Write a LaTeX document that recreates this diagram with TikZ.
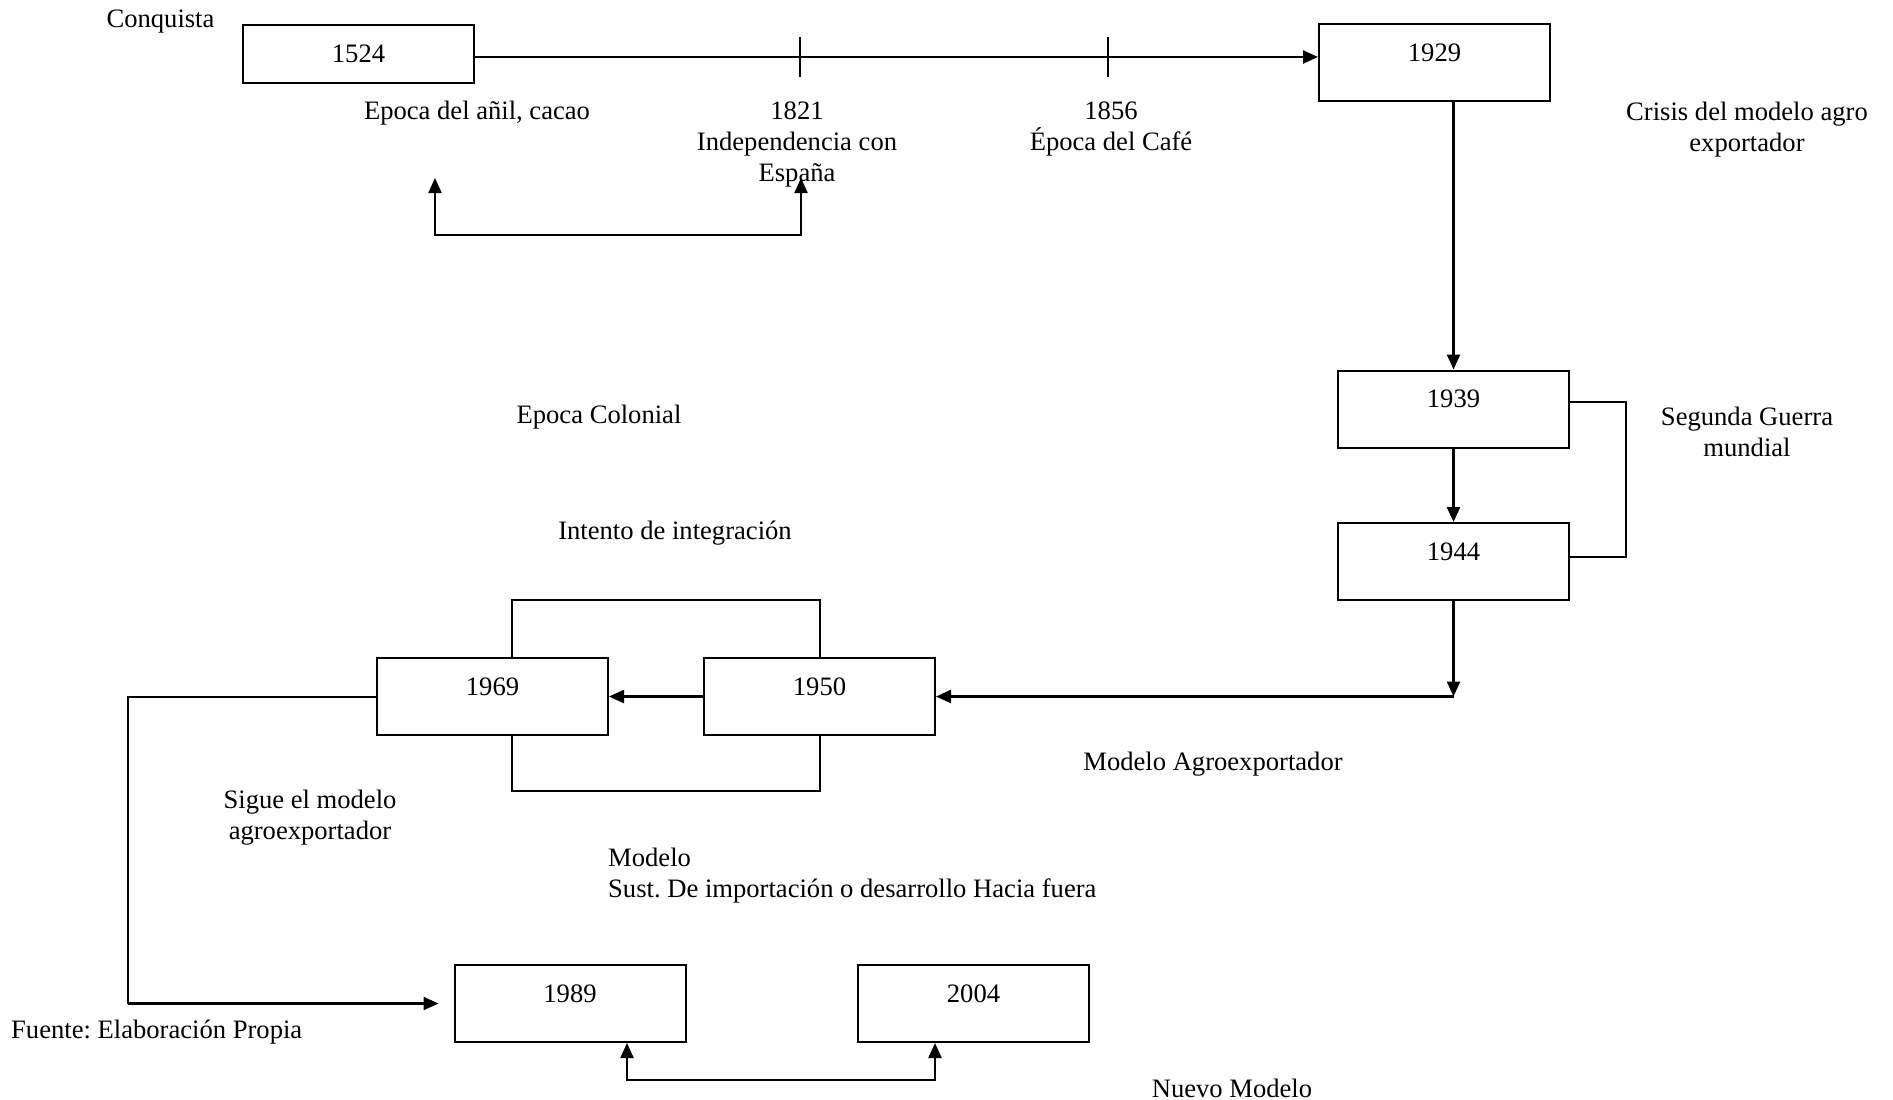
\documentclass[tikz,border=0pt]{standalone}
\usepackage{fontspec}
\setmainfont{Liberation Serif}
\frenchspacing
\usetikzlibrary{arrows.meta,calc}
\tikzset{
  yearbox/.style={draw, line width=2pt, minimum width=231pt, minimum height=77pt, inner sep=0pt},
  yr/.style={yearbox, label={[anchor=center, yshift=-29.5pt, inner sep=0pt]north:#1}},
  lbl/.style={align=center, inner sep=0pt},
  arr/.style={-{Triangle[length=15pt,width=13pt]}, line width=2.4pt},
  arrboth/.style={{Triangle[length=15pt,width=13pt]}-{Triangle[length=15pt,width=13pt]}, line width=2.2pt},
  thinline/.style={line width=1.6pt},
  midline/.style={line width=2pt},
}
\begin{document}
\frenchspacing
\begin{tikzpicture}[x=1pt, y=-1pt, font=\fontsize{26.6}{31}\selectfont]
\useasboundingbox (0,0) rectangle (1893,1100);

% boxes
\node[yr=1524, minimum height=58pt] (b1524) at (358.5,54) {};
\node[yr=1929] (b1929) at (1434.5,62.5) {};
\node[yr=1939] (b1939) at (1453.5,409) {};
\node[yr=1944] (b1944) at (1453.5,561.5) {};
\node[yr=1969] (b1969) at (492.5,696.5) {};
\node[yr=1950] (b1950) at (819.5,696.5) {};
\node[yr=1989] (b1989) at (570,1003.5) {};
\node[yr=2004] (b2004) at (973.5,1003.5) {};

% coordinates
\coordinate (tl) at (0,57);
\coordinate (t1) at (800,57);
\coordinate (t2) at (1108,57);
\coordinate (ea) at (435,178);
\coordinate (eb) at (801,178);
\coordinate (sgA) at (0,402);
\coordinate (sgB) at (0,557);
\coordinate (sgX) at (1626,0);
\coordinate (c1) at (b1944.south |- b1950.east);
\coordinate (lx) at (128,0);
\coordinate (bx1) at (627,1080);
\coordinate (bx2) at (935,1080);

% timeline
\draw[arr] (b1524.east |- tl) -- (b1929.west |- tl);
\draw[thinline] ([yshift=20pt]t1) -- ([yshift=-20pt]t1);
\draw[thinline] ([yshift=20pt]t2) -- ([yshift=-20pt]t2);

% bracket under timeline
\draw[arrboth] (ea) -- (ea |- 0,235) -- (eb |- 0,235) -- (eb);

% right column
\draw[arr] (b1929.south -| b1939.north) -- (b1939.north);
\draw[arr] (b1939.south) -- (b1944.north);
\draw[midline] (b1939.east |- sgA) -- (sgX |- sgA) -- (sgX |- sgB) -- (b1944.east |- sgB);
\draw[arr] (b1944.south) -- (c1);
\draw[arr] (c1) -- (b1950.east);

% middle row
\draw[arr] (b1950.west) -- (b1969.east);
\draw[thinline] (b1969.north -| 512,0) -- (512,600) -- (820,600) -- (b1950.north -| 820,0);
\draw[thinline] (b1969.south -| 512,0) -- (512,791) -- (820,791) -- (b1950.south -| 820,0);

% left path to 1989
\draw[midline] (b1969.west) -- (lx |- b1969.west) -- (lx |- b1989.west);
\draw[arr] (lx |- b1989.west) -- ([xshift=-15pt]b1989.west);

% bottom bracket
\draw[arrboth] (bx1 |- b1989.south) -- (bx1) -- (bx2) -- (bx2 |- b2004.south);

% labels
\node[lbl] (conq) at (160.5,21.5) {Conquista};
\node[lbl] (anil) at (477,113.5) {Epoca del añil, cacao};
\node[lbl] (l1821) at (797,144) {1821\\Independencia con\\España};
\node[lbl] (l1856) at (1111,129) {1856\\Época del Café};
\node[lbl] (crisis) at (1747,129.5) {Crisis del modelo agro\\exportador};
\node[lbl] (guerra) at (1747,432) {Segunda Guerra\\mundial};
\node[lbl] (colonial) at (599,417.5) {Epoca Colonial};
\node[lbl] (intento) at (675,533.5) {Intento de integración};
\node[lbl] (agro) at (1213,764.5) {Modelo Agroexportador};
\node[lbl] (sigue) at (310,817.5) {Sigue el modelo\\agroexportador};
\node[lbl, align=left, anchor=west] (sust) at (608,875.5) {Modelo\\Sust. De importación o desarrollo Hacia fuera};
\node[lbl, anchor=west] (fuente) at (11,1032.5) {Fuente: Elaboración Propia};
\node[lbl] (nuevo) at (1232,1088) {Nuevo Modelo};
\end{tikzpicture}
\end{document}
